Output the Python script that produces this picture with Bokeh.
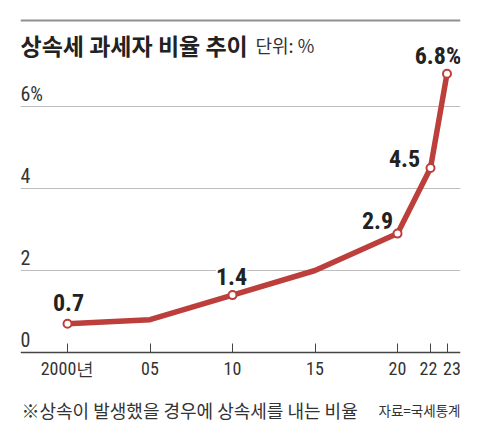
from bokeh.plotting import figure
from bokeh.models import (ColumnDataSource, FixedTicker, Grid, Label, LinearAxis, Range1d, Span)
from bokeh.core.properties import value
from bokeh.embed import file_html
from bokeh.resources import INLINE

# ---- data ----
years = [2000, 2005, 2010, 2015, 2020, 2022, 2023]
rates = [0.7, 0.8, 1.4, 2.0, 2.9, 4.5, 6.8]
marked_years = [2000, 2010, 2020, 2022, 2023]
marked_rates = [0.7, 1.4, 2.9, 4.5, 6.8]
marked_texts = ["0.7", "1.4", "2.9", "4.5", "6.8%"]
x_tick_labels = ["2000년", "05", "10", "15", "20", "22", "23"]
y_ticks = [0, 2, 4, 6]
y_tick_labels = ["0", "2", "4", "6%"]
title_text = "상속세 과세자 비율 추이"
unit_text = "단위: %"
note_text = "※상속이 발생했을 경우에 상속세를 내는 비율"
source_text = "자료=국세통계"

# ---- layout ----
FW, FH = 440, 430            # plotting area size
RED = "#bc3f3c"
PX_PER_X = 16.5
PX_PER_Y = 41.0
FRAME_L, FRAME_R = 20, 460   # picture px of the plotting area
AXIS_PX, TOP_PX = 352, 20    # picture px of value 0 and of the top rule
X_START = years[0] - (67 - FRAME_L) / PX_PER_X
X_END = X_START + (FRAME_R - FRAME_L) / PX_PER_X
NUM_FONT = "Roboto Condensed"
KR_FONT = "Noto Sans CJK KR"


def xd(px):
    return X_START + (px - FRAME_L) / PX_PER_X


def yd(py):
    return (AXIS_PX - py) / PX_PER_Y


p = figure(frame_width=FW, frame_height=FH, output_backend="svg", toolbar_location=None,
           x_range=Range1d(X_START, X_END), y_range=Range1d(yd(FH), yd(0)),
           y_axis_location=None, x_axis_location=None,
           min_border_left=FRAME_L, min_border_right=4,
           min_border_top=0, min_border_bottom=0)
p.outline_line_color = None
p.background_fill_color = "white"
p.border_fill_color = "white"
p.xgrid.visible = False
p.ygrid.visible = False

ax = LinearAxis(fixed_location=0, ticker=FixedTicker(ticks=years),
                major_label_overrides={y: "" for y in years})
ax.major_tick_in = 9
ax.major_tick_out = 0
ax.minor_tick_in = 0
ax.minor_tick_out = 0
ax.axis_line_color = "#444444"
ax.axis_line_width = 1.3
ax.major_tick_line_color = "#444444"
ax.major_tick_line_width = 1
ax.major_label_standoff = 0
ax.major_label_text_font_size = "1px"
p.add_layout(ax, "below")

p.add_layout(Grid(dimension=1, ticker=FixedTicker(ticks=y_ticks[1:]),
                  grid_line_color="#bdbdbd", grid_line_width=1))
p.add_layout(Span(location=yd(TOP_PX), dimension="width", line_color="#8f8f8f", line_width=2))

# x tick labels (small shifts keep the close 22/23 labels apart)
p.text(x=years, y=[0] * len(years), text=x_tick_labels,
       x_offset=[0, 0, 0, 0, 0, -2, 5], y_offset=16,
       text_font=value(NUM_FONT), text_font_size="18px", text_color="#333333",
       text_baseline="alphabetic", text_align="center")

# y tick labels
p.text(x=[X_START] * len(y_ticks), y=y_ticks, text=y_tick_labels,
       text_font=value(NUM_FONT), text_font_size="20px", text_color="#333333",
       text_baseline="alphabetic", text_align="left", y_offset=-13)

# value labels (white box hides the grid behind them)
lab_src = ColumnDataSource(dict(x=marked_years, y=marked_rates, t=marked_texts,
                                dx=[1, -1, -20, -26, -9], dy=[-21, -19, -13, -10, -18]))
p.text(x="x", y="y", text="t", source=lab_src, x_offset="dx", y_offset="dy",
       text_font=value(NUM_FONT), text_font_style="bold", text_font_size="24px",
       text_color="#222222", text_align="center", text_baseline="alphabetic",
       background_fill_color="white")

# line and markers
p.line(years, rates, line_width=5.5, line_color=RED, line_join="round")
p.scatter(marked_years, marked_rates, size=8, fill_color="white",
          line_color=RED, line_width=2)

# titles and notes
p.add_layout(Label(x=xd(20), y=yd(44), text=title_text, text_font=KR_FONT,
                   text_font_style="bold", text_font_size="23px", text_color="#222222",
                   text_baseline="alphabetic"))
p.add_layout(Label(x=xd(255), y=yd(44), text=unit_text, text_font=KR_FONT,
                   text_font_size="18px", text_color="#333333", text_baseline="alphabetic"))
p.add_layout(Label(x=xd(21), y=yd(409), text=note_text, text_font=KR_FONT,
                   text_font_size="18px", text_color="#333333", text_baseline="alphabetic"))
p.add_layout(Label(x=xd(460), y=yd(409), text=source_text, text_font=KR_FONT,
                   text_font_size="13.5px", text_color="#333333", text_baseline="alphabetic",
                   text_align="right"))

open("out.html", "w").write(file_html(p, INLINE))
